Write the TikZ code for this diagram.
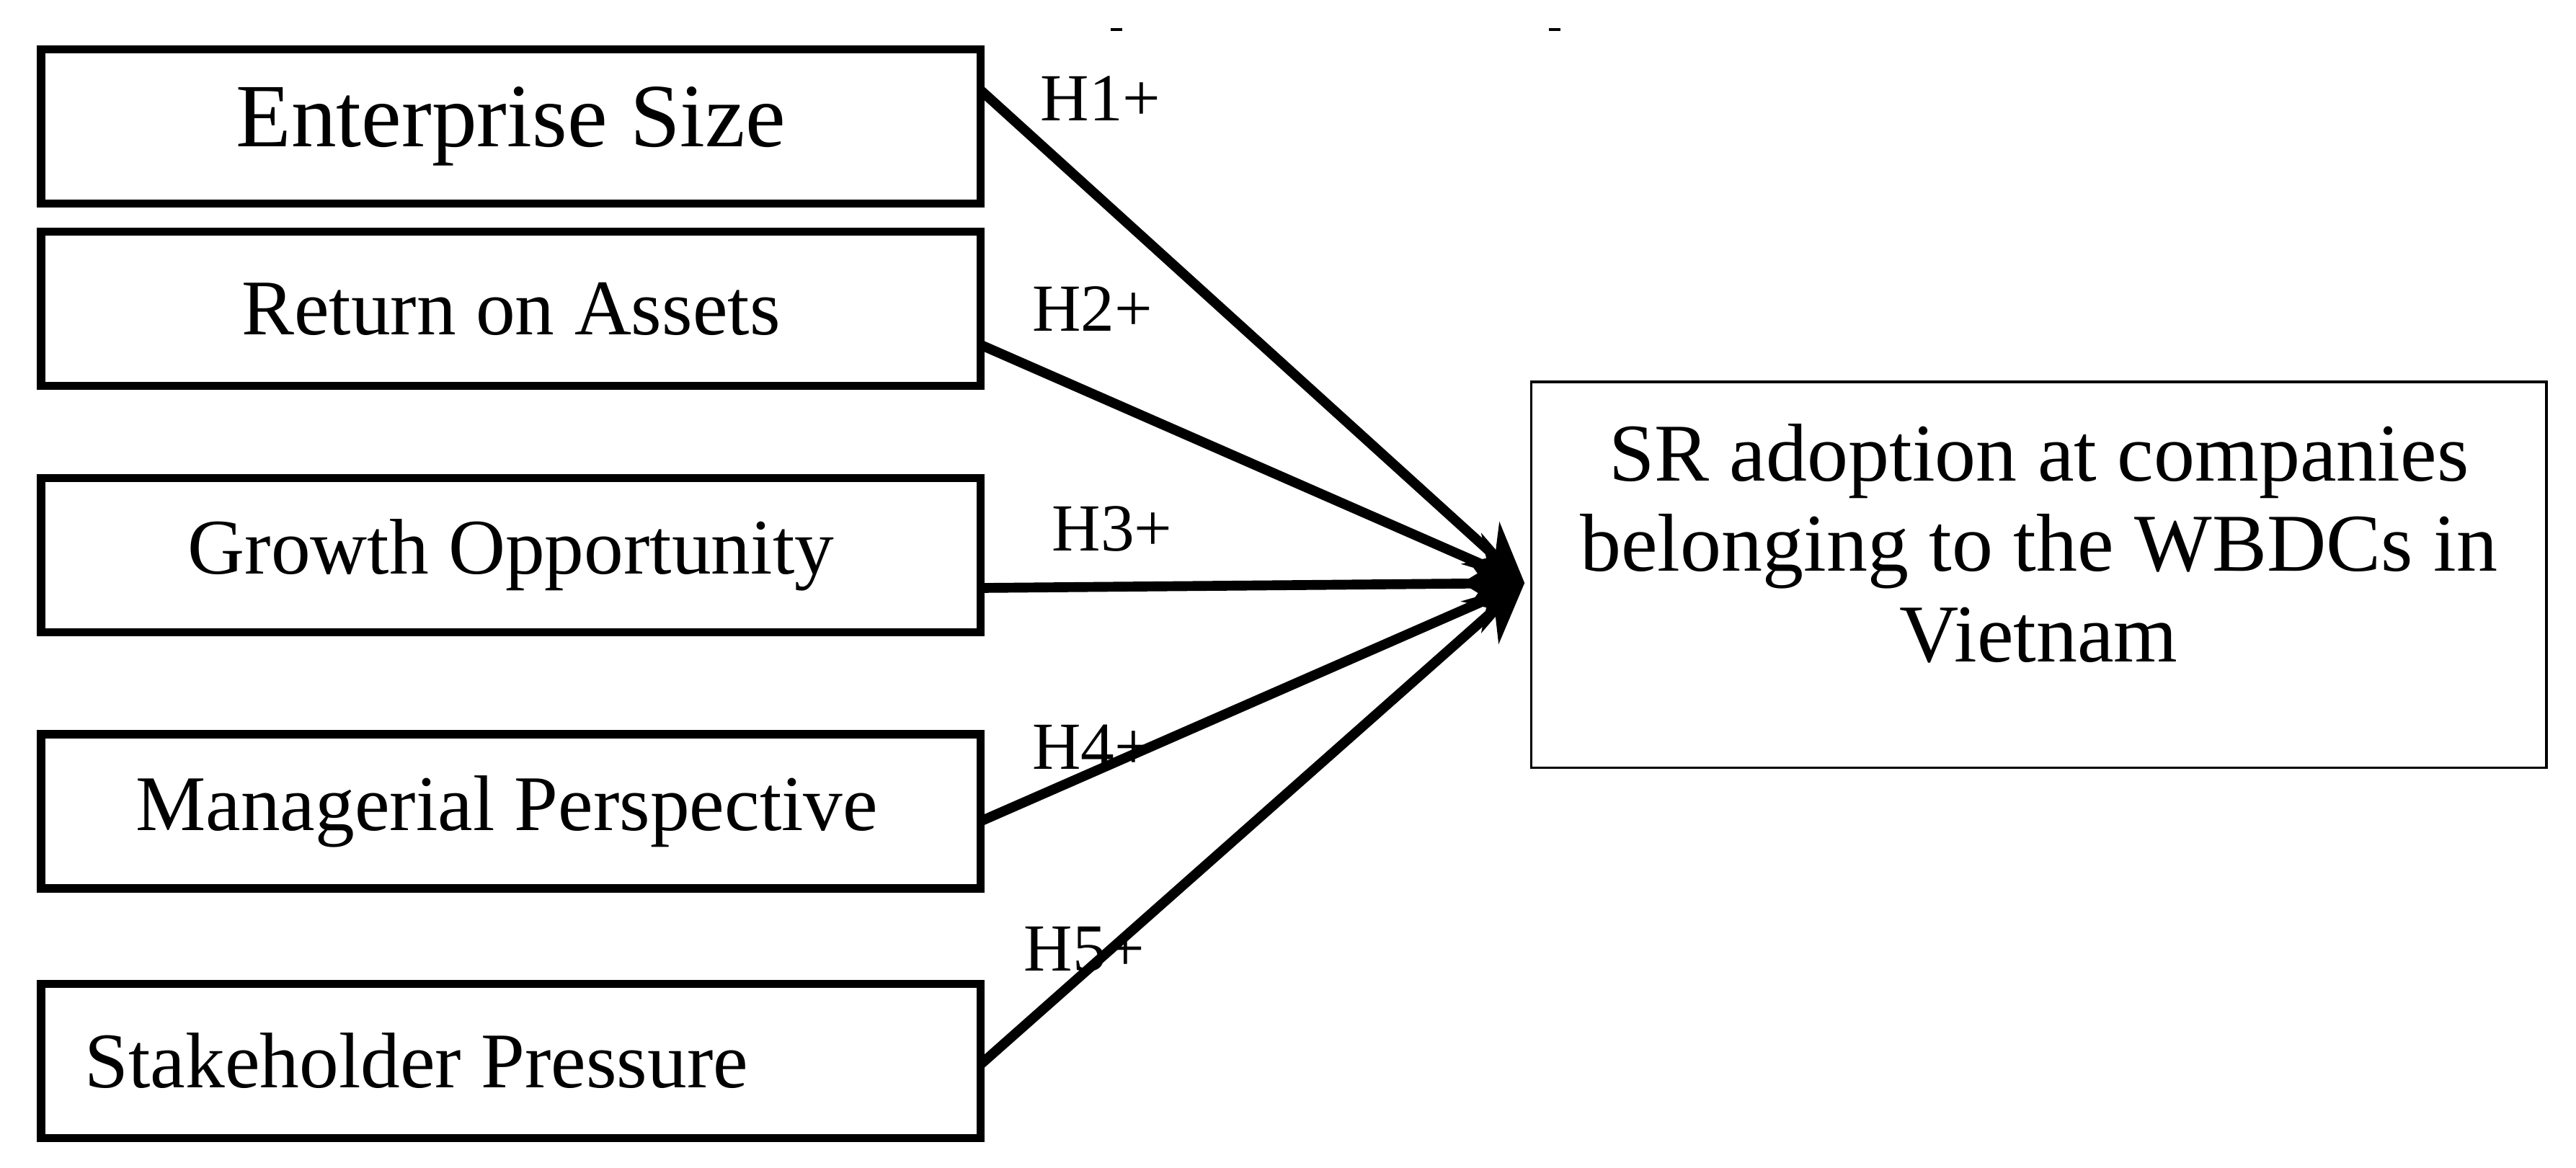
\documentclass[tikz,border=0pt]{standalone}
\usepackage{fontspec}
\setmainfont{Liberation Serif}
\usetikzlibrary{arrows.meta}
\begin{document}
\begin{tikzpicture}[x=1pt,y=-1pt,
  lbox/.style={draw,line width=5pt,minimum width=572pt,minimum height=94pt,inner sep=0pt,font=\fontsize{48}{54}\selectfont},
  arr/.style={line width=6pt,-{Stealth[length=36pt,width=34pt]}},
  hl/.style={font=\fontsize{41}{46}\selectfont}]
\useasboundingbox (0,0) rectangle (1568,711);
\node[lbox,font=\fontsize{55}{60}\selectfont] (b1) at (311,77) {Enterprise Size};
\node[lbox] (b2) at (311,188) {Return on Assets};
\node[lbox] (b3) at (311,338) {Growth Opportunity};
\node[lbox] (b4) at (311,494) {\hspace*{-5pt}Managerial Perspective};
\node[lbox] (b5) at (311,646) {\hspace*{-115pt}Stakeholder Pressure};
\node[draw,line width=1.5pt,minimum width=618pt,minimum height=235pt,inner sep=0pt] (t) at (1241,350) {};
\node[align=center,font=\fontsize{50}{55}\selectfont,inner sep=0pt,anchor=north] (tt) at (1241,258) {SR adoption at companies\\belonging to the WBDCs in\\Vietnam};
\coordinate (tip) at (928,355);
\coordinate (s1) at (597,55);
\coordinate (s2) at (597,210);
\coordinate (s3) at (597,358);
\coordinate (s4) at (597,500);
\coordinate (s5) at (597,648);
\foreach \s in {s1,s2,s3,s4,s5} \draw[arr] (\s) -- (tip);
\node[hl] (h1) at (670,60) {H1+};
\node[hl] (h2) at (665,188) {H2+};
\node[hl] (h3) at (677,322) {H3+};
\node[hl] (h4) at (665,455) {H4+};
\node[hl] (h5) at (660,578) {H5+};
\coordinate (d1a) at (676,18); \coordinate (d1b) at (683,18);
\coordinate (d2a) at (943,18); \coordinate (d2b) at (950,18);
\draw[line width=1.5pt] (d1a) -- (d1b);
\draw[line width=1.5pt] (d2a) -- (d2b);
\end{tikzpicture}
\end{document}
